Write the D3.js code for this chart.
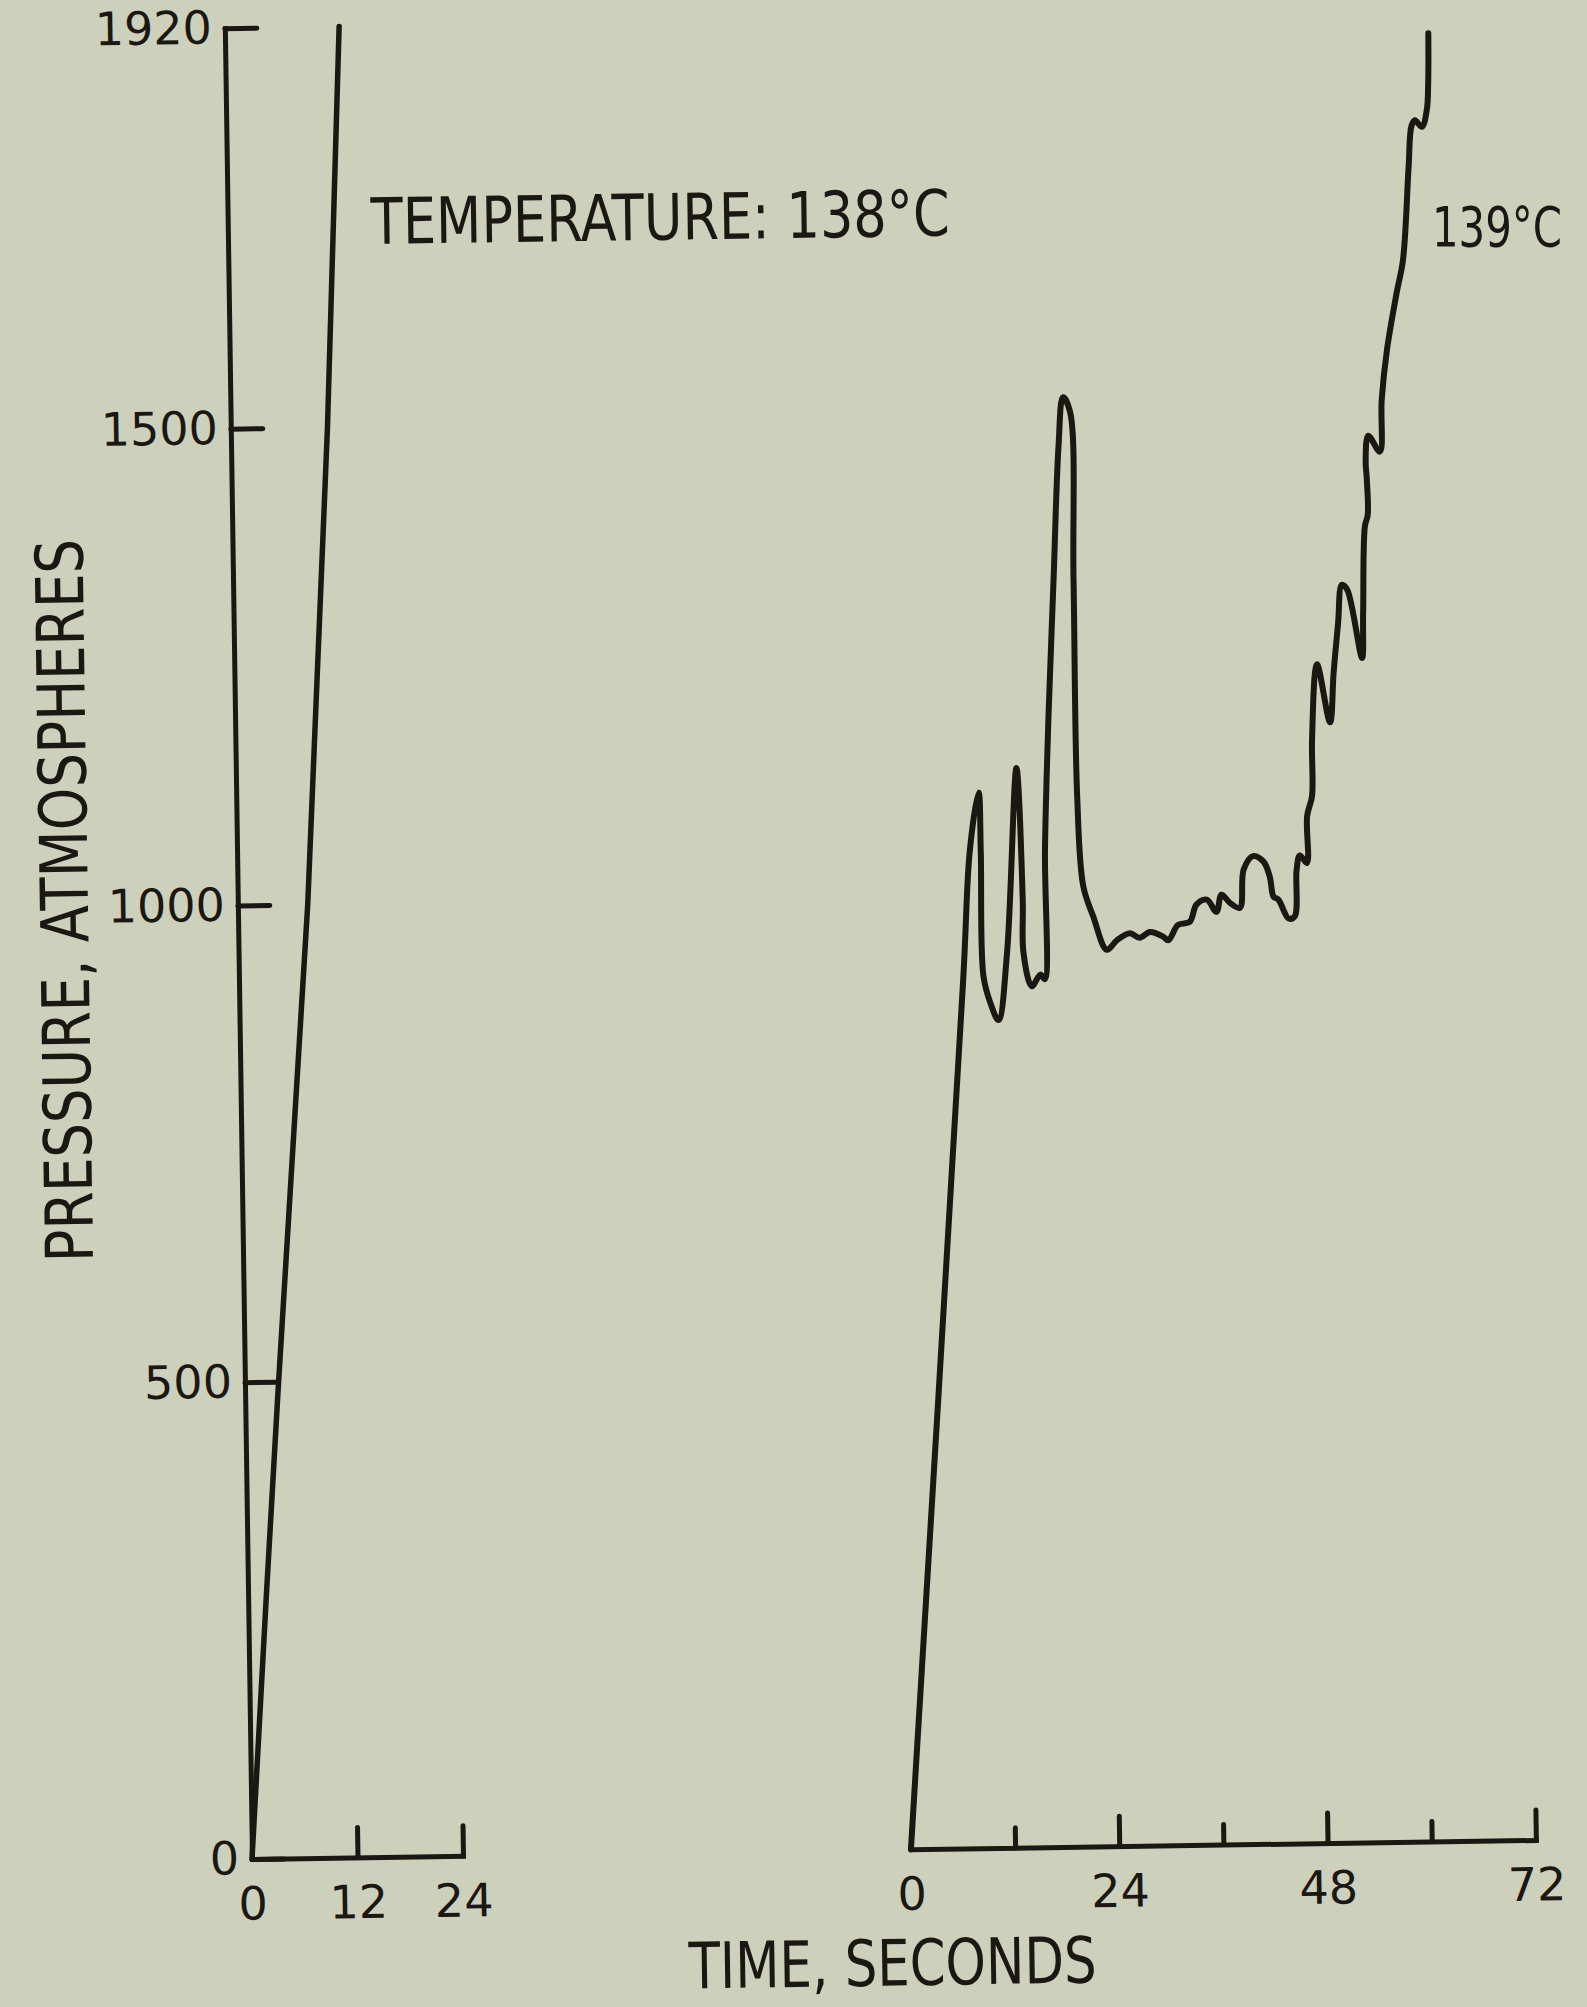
<!DOCTYPE html>
<html>
<head>
<meta charset="utf-8">
<script src="https://cdn.jsdelivr.net/npm/d3@7"></script>
<style>
  html, body { margin: 0; padding: 0; background: #cdd0ba; }
  svg { display: block; }
</style>
</head>
<body>
<script>
// ---- data ----
const pressureTicks = [0, 500, 1000, 1500, 1920];
const leftTimeTicks = [0, 12, 24];
const rightTimeTicks = [0, 12, 24, 36, 48, 60, 72];
const rightTimeLabels = [0, 24, 48, 72];

// 138 °C run (left panel)
const run138Time     = [0, 2.1, 3.75, 7.95, 11.0, 13.0];
const run138Pressure = [0, 279, 490, 1000, 1500, 1920];

// 139 °C run (right panel)
const run139Time = [
  0, 7.5, 8.5, 9.6, 9.75, 9.85, 10.6, 11.5, 12.6, 14.0, 14.5, 14.5,
  15.4, 16.4, 16.9, 17.15, 17.8, 18.6, 19.4, 20.0, 20.8, 20.9, 20.95,
  21.5, 22.6, 24.1, 25.3, 26.8, 27.9, 29.1, 30.6, 31.2, 32.35, 33.7,
  34.5, 35.7, 36.8, 37.4, 38.4, 39.5, 40.0, 41.1, 42.3, 43.0, 43.4,
  43.95, 45.1, 45.8, 46.1, 46.5, 47.3, 47.4, 48.0, 48.1, 48.8, 50.2,
  50.7, 51.3, 51.8, 52.4, 54.0, 54.2, 54.55, 54.9, 54.85, 54.75, 55.1,
  56.4, 56.7, 57.4, 58.6, 59.4, 60.2, 60.6, 61.0, 61.8, 62.4, 62.6, 62.7
];
const run139Pressure = [
  0, 910, 1047, 1107, 1045, 914, 886, 868, 938, 1132, 994, 938,
  903, 915, 910, 1046, 1189, 1329, 1469, 1520, 1504, 1328, 1101,
  1007, 975, 940, 950, 957, 952, 958, 953, 949, 965, 968,
  986, 991, 978, 996, 987, 982, 1022, 1036, 1030, 1014, 993,
  990, 970, 972, 1021, 1036, 1028, 1077, 1098, 1157, 1236, 1175,
  1227, 1279, 1319, 1314, 1242, 1289, 1380, 1392, 1430, 1448, 1475,
  1458, 1512, 1565, 1624, 1659, 1756, 1799, 1805, 1798, 1816, 1844, 1896
];

const yTitle = "PRESSURE, ATMOSPHERES";
const xTitle = "TIME, SECONDS";
const label138 = "TEMPERATURE: 138°C";
const label139 = "139°C";

// ---- drawing ----
const W = 1587, H = 2007;
const ink = "#1b1713";
const titleFont = "'Liberation Sans Narrow', 'DejaVu Sans Condensed', 'Liberation Sans', sans-serif";
const tickFont = "'DejaVu Sans', sans-serif";

const svg = d3.select("body").append("svg")
  .attr("width", W).attr("height", H)
  .style("background", "#cdd0ba");

// the scanned figure is slightly rotated
const g = svg.append("g").attr("transform", "rotate(-0.85, 252, 1859)");

const y = d3.scaleLinear().domain([0, 1920]).range([1859, 28]);
const xL = d3.scaleLinear().domain([0, 24]).range([252, 463]);
const xR = d3.scaleLinear().domain([0, 72]).range([911, 1536]);

function styleAxis(sel) {
  sel.attr("font-family", tickFont).attr("font-size", 46);
  sel.selectAll("path.domain").attr("stroke", ink).attr("stroke-width", 5).attr("stroke-linecap", "square");
  sel.selectAll(".tick line").attr("stroke", ink).attr("stroke-width", 5).attr("stroke-linecap", "round");
  sel.selectAll(".tick text").attr("fill", ink);
}

// left y axis
const yAxisG = g.append("g")
  .attr("transform", `translate(${xL(0)},0)`)
  .call(d3.axisLeft(y).tickValues(pressureTicks).tickSize(-32).tickSizeOuter(0)
        .tickPadding(13).tickFormat(d3.format("d")));
styleAxis(yAxisG);

// left x axis
const xLAxisG = g.append("g")
  .attr("transform", `translate(0,${y(0)})`)
  .call(d3.axisBottom(xL).tickValues(leftTimeTicks).tickSize(-30).tickSizeOuter(0)
        .tickPadding(28).tickFormat(d3.format("d")));
styleAxis(xLAxisG);
xLAxisG.selectAll(".tick line").filter(d => d === 0).remove();

// right x axis
const xRAxisG = g.append("g")
  .attr("transform", `translate(0,${y(0)})`)
  .call(d3.axisBottom(xR).tickValues(rightTimeTicks).tickSize(-30).tickSizeOuter(0)
        .tickPadding(28).tickFormat(d => rightTimeLabels.includes(d) ? d3.format("d")(d) : ""));
styleAxis(xRAxisG);
xRAxisG.selectAll(".tick line")
  .attr("y2", d => d === 0 ? 0 : (rightTimeLabels.includes(d) ? -30 : -20));

// data lines
const run138 = run138Time.map((t, i) => [t, run138Pressure[i]]);
const run139 = run139Time.map((t, i) => [t, run139Pressure[i]]);

g.append("path")
  .datum(run138)
  .attr("fill", "none").attr("stroke", ink).attr("stroke-width", 5.5)
  .attr("stroke-linejoin", "round").attr("stroke-linecap", "round")
  .attr("d", d3.line().x(d => xL(d[0])).y(d => y(d[1])));

g.append("path")
  .datum(run139)
  .attr("fill", "none").attr("stroke", ink).attr("stroke-width", 6)
  .attr("stroke-linejoin", "round").attr("stroke-linecap", "round")
  .attr("d", d3.line().curve(d3.curveCatmullRom.alpha(0.5)).x(d => xR(d[0])).y(d => y(d[1])));

// texts
g.append("text")
  .attr("x", 395).attr("y", 246)
  .attr("font-family", titleFont).attr("font-size", 64).attr("fill", ink)
  .attr("textLength", 579).attr("lengthAdjust", "spacingAndGlyphs")
  .text(label138);

svg.append("text")
  .attr("x", 1562).attr("y", 246)
  .attr("text-anchor", "end")
  .attr("font-family", titleFont).attr("font-size", 56).attr("fill", ink)
  .attr("textLength", 130).attr("lengthAdjust", "spacingAndGlyphs")
  .text(label139);

g.append("text")
  .attr("x", 891).attr("y", 1995)
  .attr("text-anchor", "middle")
  .attr("font-family", titleFont).attr("font-size", 64).attr("fill", ink)
  .attr("textLength", 408).attr("lengthAdjust", "spacingAndGlyphs")
  .text(xTitle);

g.append("text")
  .attr("transform", "translate(102,898) rotate(-90)")
  .attr("text-anchor", "middle")
  .attr("font-family", titleFont).attr("font-size", 66).attr("fill", ink)
  .attr("textLength", 723).attr("lengthAdjust", "spacingAndGlyphs")
  .text(yTitle);
</script>
</body>
</html>
